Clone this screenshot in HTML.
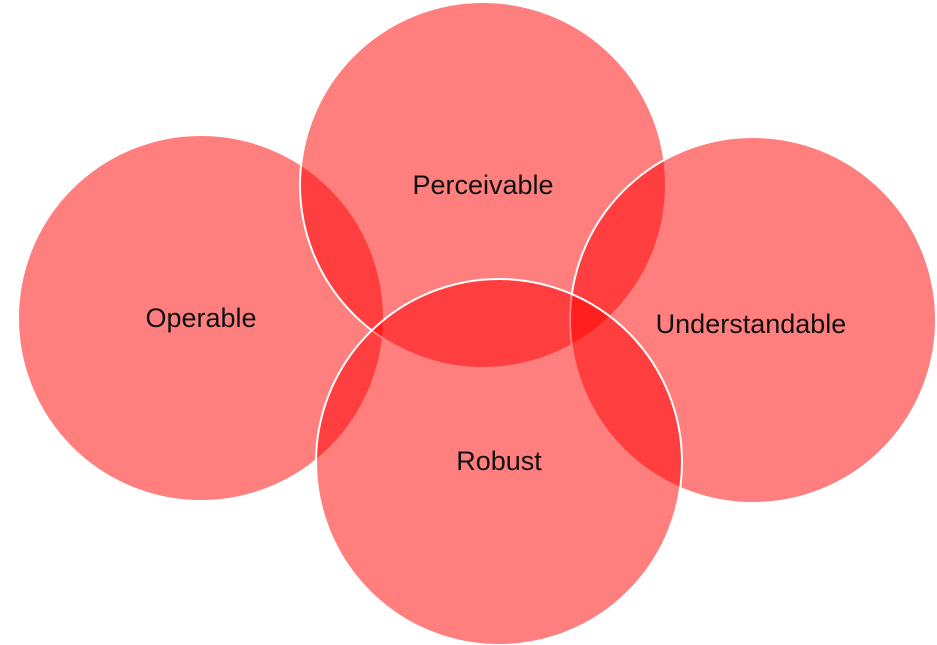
<!DOCTYPE html>
<html><head><meta charset="utf-8"><style>
html,body{margin:0;padding:0;background:#fff;}
svg{display:block;}
text{font-family:"Liberation Sans",sans-serif;font-size:27px;fill:#111;text-anchor:middle;}
</style></head><body>
<svg width="937" height="645" viewBox="0 0 937 645">
<g fill="rgba(255,0,0,0.5)" stroke="#fff" stroke-width="2">
<circle cx="201" cy="318" r="183"/>
<circle cx="483" cy="185" r="183"/>
<circle cx="753" cy="320" r="183"/>
<circle cx="499" cy="462" r="183"/>
</g>
<text x="201" y="327">Operable</text>
<text x="483" y="194">Perceivable</text>
<text x="751" y="333">Understandable</text>
<text x="499" y="470">Robust</text>
</svg>
</body></html>
